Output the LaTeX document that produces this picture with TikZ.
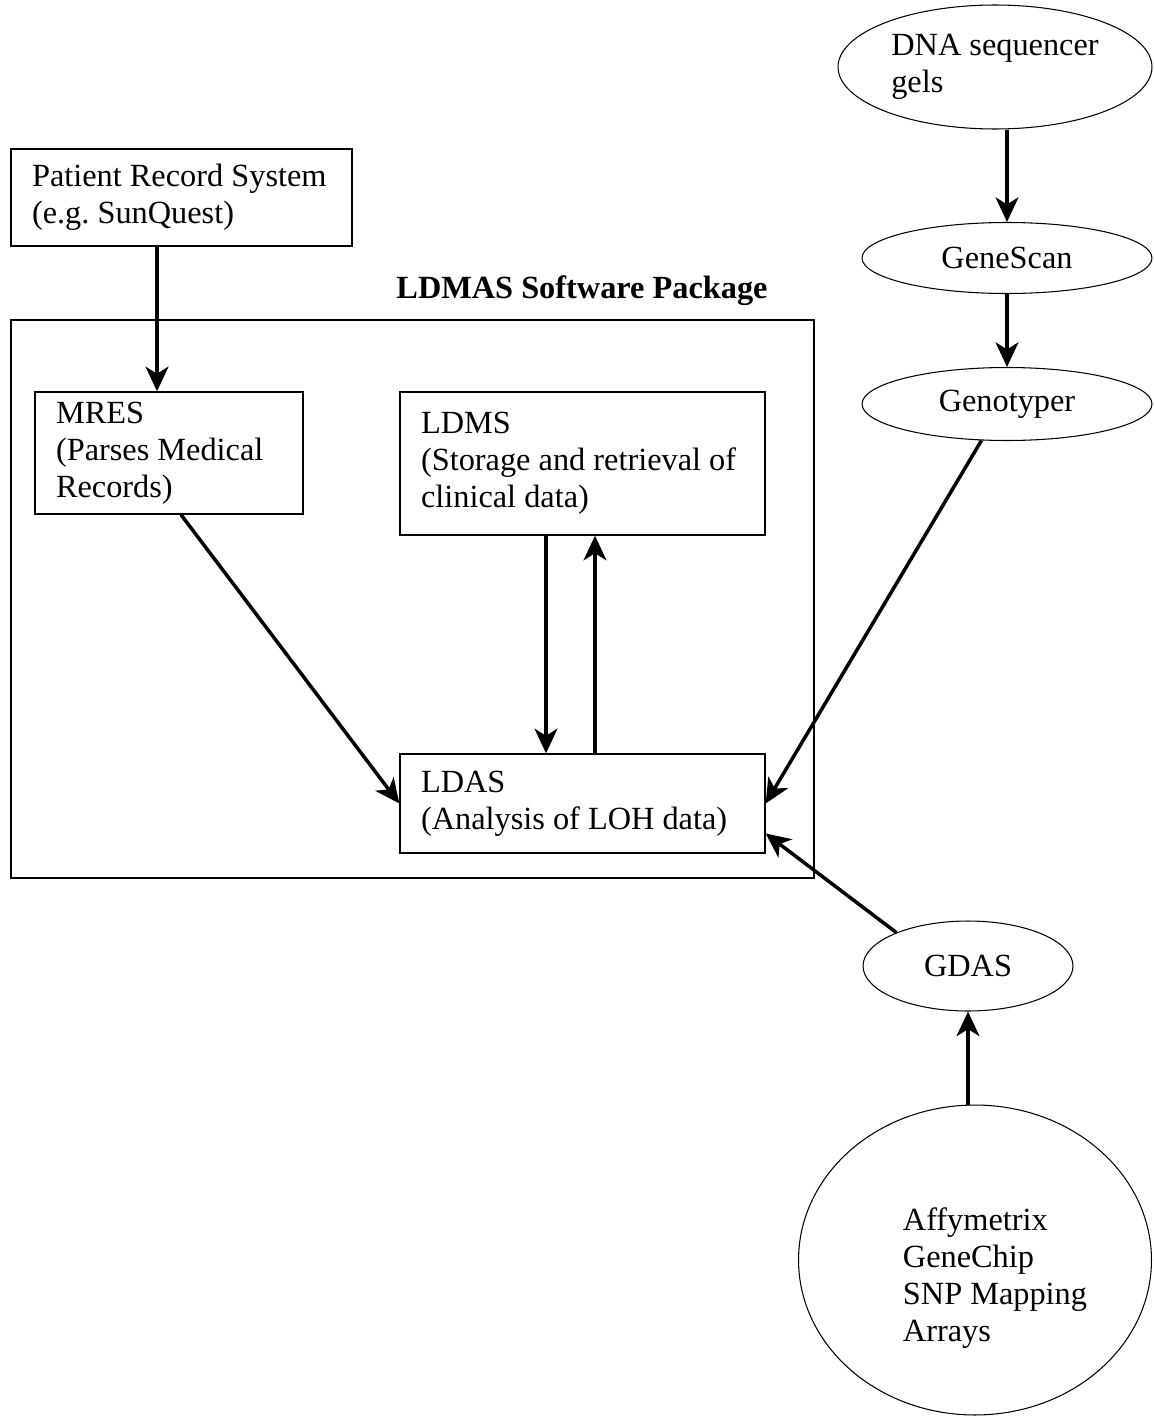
\documentclass[tikz,border=0pt]{standalone}
\usepackage{fontspec}
\setmainfont{Liberation Serif}
\usetikzlibrary{shapes.geometric}
\usetikzlibrary{arrows.meta}
\newcommand{\lefttext}[2]{\makebox[#1][l]{\begin{tabular}{@{}l@{}}#2\end{tabular}}}
\tikzset{every node/.style={font=\fontsize{18.4}{21}\selectfont},
 box/.style={draw,line width=0.8pt,rectangle,inner xsep=0.42cm,inner ysep=0pt},
 oval/.style={draw,line width=0.6pt,ellipse,align=left,inner sep=0pt},
 arr/.style={line width=2pt,-{Stealth[length=14pt,width=13pt,inset=4pt]}},
 }

\begin{document}
\begin{tikzpicture}[x=0.02cm,y=-0.02cm]
        \useasboundingbox[fill=white] (0,0) rectangle (1153,1416);
        % package frame
        \node[draw,line width=0.8pt,minimum width=16.06cm,minimum height=11.16cm] (ldmas) at (412.5,599) {};
        \node[font=\fontsize{18.4}{21}\selectfont\bfseries] (title) at (582,291) {LDMAS Software Package};
        % boxes
        \node[box,minimum height=1.94cm] (patient) at (181.5,197.5) {\lefttext{5.98cm}{Patient Record System\\(e.g.\ SunQuest)}};
        \node[box,minimum height=2.44cm] (mres) at (169,453) {\lefttext{4.52cm}{MRES\\(Parses Medical\\Records)}};
        \node[box,minimum height=2.86cm] (ldms) at (582.5,463.5) {\lefttext{6.46cm}{LDMS\\(Storage and retrieval of\\clinical data)}};
        \node[box,minimum height=1.98cm] (ldas) at (582.5,803.5) {\lefttext{6.46cm}{LDAS\\(Analysis of LOH data)}};
        % ellipses
        \node[oval,minimum width=6.28cm,minimum height=2.48cm] (dna) at (995,67) {DNA sequencer\\gels};
        \node[oval,minimum width=5.8cm,minimum height=1.42cm] (genescan) at (1007,258) {GeneScan};
        \node[oval,minimum width=5.8cm,minimum height=1.46cm] (genotyper) at (1007,404) {Genotyper};
        \node[oval,minimum width=4.2cm,minimum height=1.8cm] (gdas) at (968,966) {GDAS};
        \node[oval,minimum width=7.06cm,minimum height=6.2cm] (affy) at (975,1260) {\hspace*{0.8cm}\begin{tabular}{@{}l@{}}\rule{0pt}{36pt}Affymetrix\\GeneChip\\SNP Mapping\\Arrays\end{tabular}};
        % arrows
        \coordinate (pr) at (157,0);
        \coordinate (dn) at (546,0);
        \coordinate (up) at (595,0);
        \draw[arr] (patient.south -| pr) -- (mres.north -| pr);
        \draw[arr] ([xshift=0.24cm]mres.south) -- (ldas.west);
        \draw[arr] (ldms.south -| dn) -- (ldas.north -| dn);
        \draw[arr] (ldas.north -| up) -- (ldms.south -| up);
        \draw[arr] (dna.south -| genescan.north) -- (genescan.north);
        \draw[arr] (genescan.south) -- (genotyper.north);
        \draw[arr] (genotyper.235) -- (ldas.east);
        \draw[arr] (gdas.155) -- ([yshift=-0.6cm]ldas.east);
        \draw[arr] (affy.north -| gdas.south) -- (gdas.south);
    \end{tikzpicture}
\end{document}
